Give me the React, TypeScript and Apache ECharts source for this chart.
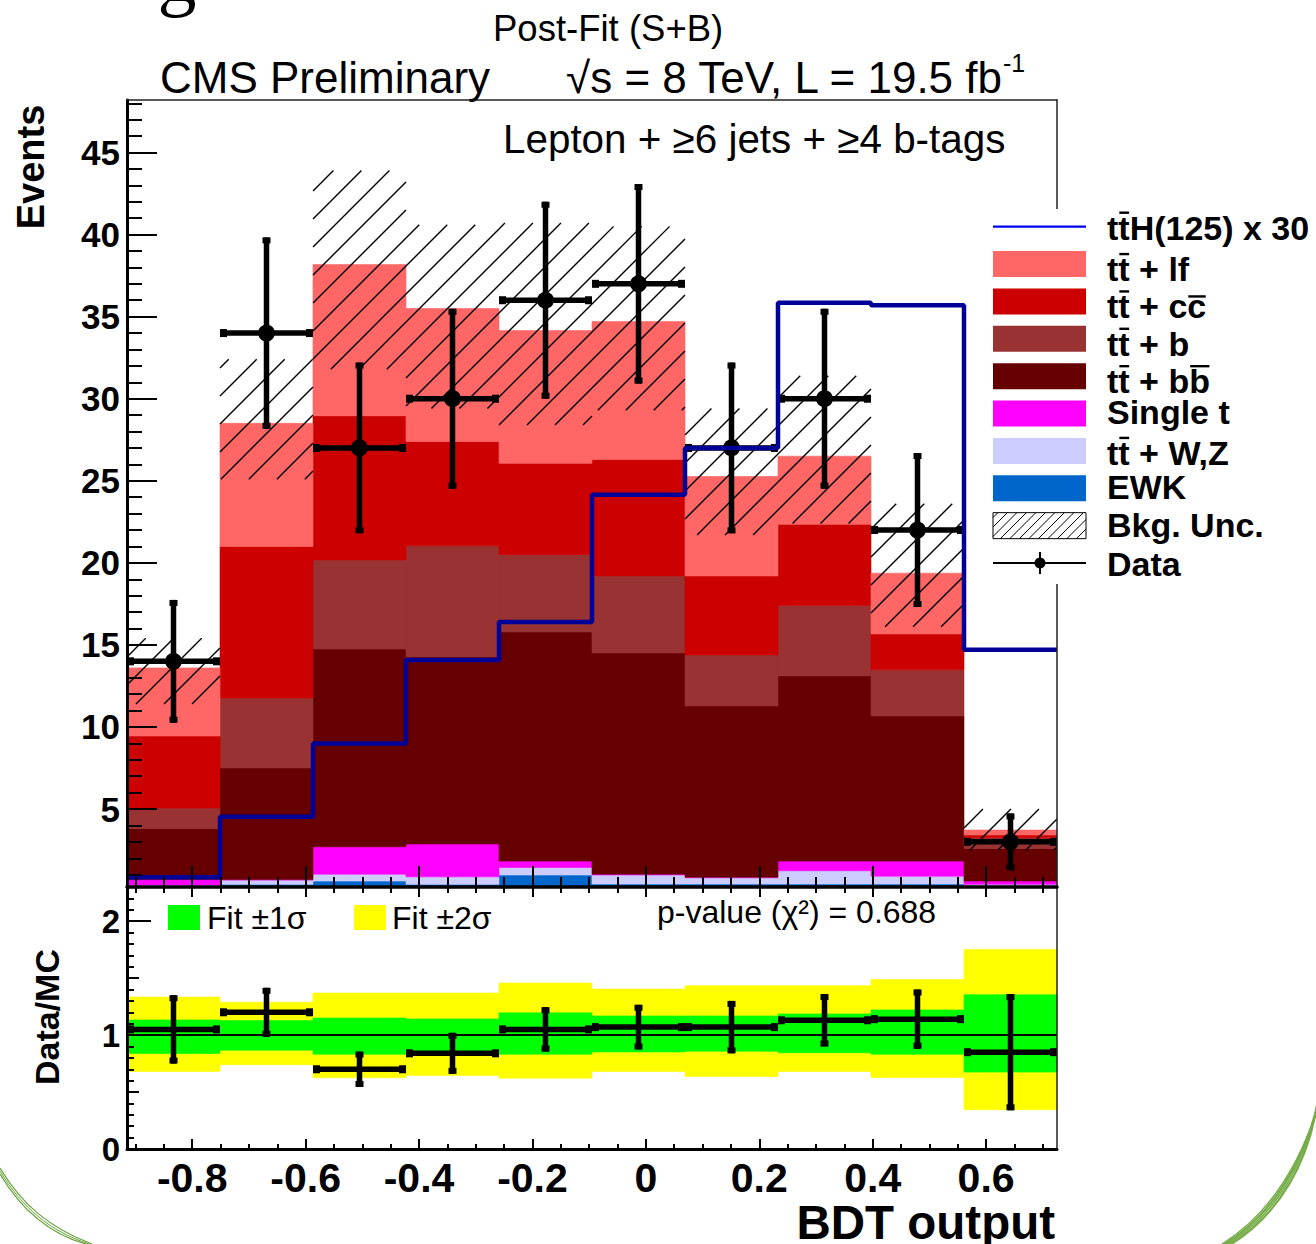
import React, { useEffect, useRef } from 'react';
import * as echarts from 'echarts';

const FONT = '"Liberation Sans", Arial, Helvetica, sans-serif';

// BDT output binning (10 bins)
const binEdges = [-0.915, -0.751, -0.587, -0.423, -0.259, -0.095, 0.069, 0.233, 0.397, 0.561, 0.725];

// Post-fit background yields per bin, stacked bottom to top
const ewk = [0.10, 0.41, 0.61, 0.41, 0.98, 0.43, 0.43, 0.43, 0.43, 0.30];
const ttV = [0.27, 0.26, 0.42, 0.46, 0.46, 0.55, 0.38, 0.81, 0.48, 0.11];
const singleTop = [0.33, 0.03, 1.67, 2.00, 0.39, 0.05, 0.04, 0.59, 0.92, 0.20];
const ttbb = [3.12, 6.80, 12.05, 11.40, 13.96, 13.48, 10.43, 11.28, 8.84, 1.99];
const ttb = [1.24, 4.27, 5.43, 6.77, 4.71, 4.69, 3.11, 4.29, 2.81, 0.65];
const ttcc = [4.39, 9.23, 8.78, 6.36, 5.57, 7.10, 4.81, 4.95, 2.19, 0.17];
const ttlf = [4.15, 7.50, 9.21, 8.10, 8.08, 8.40, 6.06, 4.15, 3.70, 0.30];

// total background uncertainty band (hatched)
const bkgUncUp = [15.4, 32.4, 43.9, 40.6, 40.7, 40.5, 29.4, 31.4, 23.6, 5.0];
const bkgUncDown = [11.4, 25.1, 31.8, 29.4, 28.4, 29.3, 21.7, 22.4, 16.1, 2.5];

// ttH(125) signal scaled by 30
const tthTimes30 = [0.85, 4.53, 9.0, 14.08, 16.4, 24.15, 27.0, 35.85, 35.7, 14.7];

// observed data
const dataCounts = [14, 34, 27, 30, 36, 37, 27, 30, 22, 3];
const dataErrors = [3.74, 5.83, 5.20, 5.48, 6.00, 6.08, 5.20, 5.48, 4.69, 1.73];

// Data/MC ratio panel
const ratioValues = [1.05, 1.20, 0.70, 0.84, 1.05, 1.07, 1.07, 1.13, 1.14, 0.85];
const ratioErrors = [0.30, 0.215, 0.155, 0.18, 0.195, 0.196, 0.23, 0.23, 0.26, 0.51];
const fit1SigmaUp = [1.133, 1.127, 1.150, 1.142, 1.195, 1.168, 1.168, 1.186, 1.221, 1.354];
const fit1SigmaDown = [0.838, 0.867, 0.832, 0.832, 0.832, 0.852, 0.858, 0.844, 0.832, 0.675];
const fit2SigmaUp = [1.334, 1.289, 1.369, 1.369, 1.457, 1.404, 1.434, 1.434, 1.487, 1.752];
const fit2SigmaDown = [0.681, 0.740, 0.625, 0.646, 0.622, 0.681, 0.637, 0.681, 0.628, 0.345];

// axis tick labels
const xTickLabels = [-0.8, -0.6, -0.4, -0.2, 0, 0.2, 0.4, 0.6];
const yTickLabels = [5, 10, 15, 20, 25, 30, 35, 40, 45];
const ratioTickLabels = [0, 1, 2];

const X_MIN = binEdges[0];
const X_MAX = binEdges[binEdges.length - 1];
const Y_MIN = 0.25;
const Y_MAX = 48.2;
const R_MIN = 0;
const R_MAX = 2.3;

const xMinorTicks: number[] = [];
for (let i = -18; i <= 14; i++) xMinorTicks.push(Math.round(i * 5) / 100);
const yMinorTicks: number[] = [];
for (let i = 1; i <= 48; i++) yMinorTicks.push(i);
const rMinorTicks: number[] = [];
for (let i = 1; i <= 23; i++) rMinorTicks.push(i / 10);
const rMediumTicks = [0.5, 1.5];

const fmtX = (v: number) => (Math.abs(v) < 1e-9 ? '0' : v.toFixed(1));

let measureCtx: CanvasRenderingContext2D | null = null;
function textWidth(s: string, font: string) {
  if (!measureCtx) measureCtx = document.createElement('canvas').getContext('2d');
  if (!measureCtx) return s.length * 18;
  measureCtx.font = font;
  return measureCtx.measureText(s).width;
}

function makeAxis(o: any) {
  return {
    type: 'value',
    gridIndex: o.gridIndex,
    position: o.position,
    min: o.min,
    max: o.max,
    z: 10,
    splitLine: { show: false },
    axisLine: { show: !!o.line, onZero: false, lineStyle: { color: o.lineColor || '#000', width: o.line || 1 } },
    axisTick: {
      show: !!o.ticks,
      inside: true,
      length: o.tickLen || 0,
      customValues: o.ticks,
      lineStyle: { color: '#000', width: o.tickWidth || 2 },
    },
    axisLabel: {
      show: !!o.labels,
      customValues: o.labels,
      margin: o.labelMargin ?? 8,
      fontSize: o.labelSize || 12,
      fontWeight: 'bold',
      fontFamily: FONT,
      color: '#000',
      formatter: o.formatter,
    },
  };
}

function rectItem(color: string) {
  return (params: any, api: any) => {
    const lo = api.value(0), hi = api.value(1), b = api.value(2), t = api.value(3);
    const p0 = api.coord([lo, t]);
    const p1 = api.coord([hi, b]);
    const shape = echarts.graphic.clipRectByRect(
      { x: p0[0], y: p0[1], width: p1[0] - p0[0], height: p1[1] - p0[1] },
      params.coordSys,
    );
    if (!shape) return null;
    return { type: 'rect', shape, style: { fill: color, stroke: color, lineWidth: 0.6 } };
  };
}

function hatchLines(x0: number, y0: number, x1: number, y1: number, step: number, lineWidth: number) {
  const out: any[] = [];
  const cStart = Math.ceil((x0 + y0) / step) * step;
  for (let c = cStart; c <= x1 + y1; c += step) {
    const xa = Math.max(x0, c - y1);
    const xb = Math.min(x1, c - y0);
    if (xb - xa > 0.5) {
      out.push({ type: 'line', shape: { x1: xa, y1: c - xa, x2: xb, y2: c - xb }, style: { stroke: '#000', lineWidth } });
    }
  }
  return out;
}

function errorItem(withMarker: boolean) {
  return (_params: any, api: any) => {
    const lo = api.value(0), hi = api.value(1), v = api.value(2), e = api.value(3);
    const c = (lo + hi) / 2;
    const pL = api.coord([lo, v]);
    const pR = api.coord([hi, v]);
    const pT = api.coord([c, v + e]);
    const pB = api.coord([c, v - e]);
    const lw = 5.5;
    const cap = 8;
    const children: any[] = [
      { type: 'line', shape: { x1: pL[0], y1: pL[1], x2: pR[0], y2: pR[1] }, style: { stroke: '#000', lineWidth: lw } },
      { type: 'line', shape: { x1: pT[0], y1: pT[1], x2: pB[0], y2: pB[1] }, style: { stroke: '#000', lineWidth: lw } },
      { type: 'rect', shape: { x: pL[0], y: pL[1] - cap / 2, width: cap - 1, height: cap }, style: { fill: '#000' } },
      { type: 'rect', shape: { x: pR[0] - cap + 1, y: pR[1] - cap / 2, width: cap - 1, height: cap }, style: { fill: '#000' } },
      { type: 'rect', shape: { x: pT[0] - cap / 2, y: pT[1], width: cap, height: cap - 2 }, style: { fill: '#000' } },
      { type: 'rect', shape: { x: pB[0] - cap / 2, y: pB[1] - cap + 2, width: cap, height: cap - 2 }, style: { fill: '#000' } },
    ];
    if (withMarker) {
      children.push({ type: 'circle', shape: { cx: pL[0] + (pR[0] - pL[0]) / 2, cy: pL[1], r: 8.5 }, style: { fill: '#000' } });
    }
    return { type: 'group', children };
  };
}

function text(t: string, x: number, y: number, size: number, o: any = {}) {
  const align = o.align || 'left';
  const vAlign = o.vAlign || 'middle';
  return {
    type: 'text',
    x,
    y,
    z: 100,
    rotation: o.rotation || 0,
    style: {
      text: t,
      fontSize: size,
      fontFamily: o.family || FONT,
      fontWeight: o.bold ? 'bold' : 'normal',
      fill: o.color || '#000',
      align,
      verticalAlign: vAlign,
      textAlign: align,
      textVerticalAlign: vAlign,
    },
  };
}

function buildOption() {
  const components = [
    { name: 'EWK', values: ewk, color: '#0066cc' },
    { name: 'tt + W,Z', values: ttV, color: '#ccccff' },
    { name: 'Single t', values: singleTop, color: '#ff00ff' },
    { name: 'tt + bb', values: ttbb, color: '#660000' },
    { name: 'tt + b', values: ttb, color: '#993333' },
    { name: 'tt + cc', values: ttcc, color: '#cc0000' },
    { name: 'tt + lf', values: ttlf, color: '#ff6666' },
  ];
  const running = ttlf.map(() => 0);
  const stackSeries = components.map((c) => {
    const data = c.values.map((v, i) => {
      const b = running[i];
      running[i] = b + v;
      return [binEdges[i], binEdges[i + 1], b, b + v];
    });
    return {
      type: 'custom',
      name: c.name,
      xAxisIndex: 0,
      yAxisIndex: 0,
      renderItem: rectItem(c.color),
      data,
      silent: true,
    };
  });

  const hatchSeries = {
    type: 'custom',
    name: 'Bkg. Unc.',
    xAxisIndex: 0,
    yAxisIndex: 0,
    silent: true,
    data: bkgUncUp.map((u, i) => [binEdges[i], binEdges[i + 1], bkgUncDown[i], u]),
    renderItem: (_p: any, api: any) => {
      const p0 = api.coord([api.value(0), api.value(3)]);
      const p1 = api.coord([api.value(1), api.value(2)]);
      return { type: 'group', children: hatchLines(p0[0], p0[1], p1[0], p1[1], 28, 1.4) };
    },
  };

  const tthPoints: number[][] = tthTimes30.map((v, i) => [binEdges[i], v]);
  tthPoints.push([binEdges[binEdges.length - 1], tthTimes30[tthTimes30.length - 1]]);
  const tthSeries = {
    type: 'line',
    name: 'ttH(125) x 30',
    xAxisIndex: 0,
    yAxisIndex: 0,
    step: 'end',
    symbol: 'none',
    data: tthPoints,
    lineStyle: { color: '#000099', width: 4.5 },
    silent: true,
  };

  const dataSeries = {
    type: 'custom',
    name: 'Data',
    xAxisIndex: 0,
    yAxisIndex: 0,
    silent: true,
    data: dataCounts.map((v, i) => [binEdges[i], binEdges[i + 1], v, dataErrors[i]]),
    renderItem: errorItem(true),
  };

  const band2Series = {
    type: 'custom',
    name: 'Fit ±2σ',
    xAxisIndex: 3,
    yAxisIndex: 3,
    silent: true,
    data: fit2SigmaUp.map((u, i) => [binEdges[i], binEdges[i + 1], fit2SigmaDown[i], u]),
    renderItem: rectItem('#ffff00'),
  };
  const band1Series = {
    type: 'custom',
    name: 'Fit ±1σ',
    xAxisIndex: 3,
    yAxisIndex: 3,
    silent: true,
    data: fit1SigmaUp.map((u, i) => [binEdges[i], binEdges[i + 1], fit1SigmaDown[i], u]),
    renderItem: rectItem('#00ff00'),
  };
  const unitySeries = {
    type: 'line',
    xAxisIndex: 3,
    yAxisIndex: 3,
    symbol: 'none',
    silent: true,
    data: [[X_MIN, 1], [X_MAX, 1]],
    lineStyle: { color: '#000', width: 2 },
  };
  const ratioSeries = {
    type: 'custom',
    name: 'Data/MC',
    xAxisIndex: 3,
    yAxisIndex: 3,
    silent: true,
    data: ratioValues.map((v, i) => [binEdges[i], binEdges[i + 1], v, ratioErrors[i]]),
    renderItem: errorItem(false),
  };

  // legend (right side); bars = characters carrying an anti-particle overline
  const legendRows: any[] = [
    { label: 'ttH(125) x 30', bars: [1], kind: 'line', dy: 1 },
    { label: 'tt + lf', bars: [1], kind: 'box', color: '#ff6666', dy: 5 },
    { label: 'tt + cc', bars: [1, 6], kind: 'box', color: '#cc0000', dy: 5 },
    { label: 'tt + b', bars: [1], kind: 'box', color: '#993333', dy: 5 },
    { label: 'tt + bb', bars: [1, 6], kind: 'box', color: '#660000', dy: 5 },
    { label: 'Single t', bars: [], kind: 'box', color: '#ff00ff', dy: -2 },
    { label: 'tt + W,Z', bars: [1], kind: 'box', color: '#ccccff', dy: 2 },
    { label: 'EWK', bars: [], kind: 'box', color: '#0066cc', dy: -1 },
    { label: 'Bkg. Unc.', bars: [], kind: 'hatch', dy: -1 },
    { label: 'Data', bars: [], kind: 'data', dy: 1 },
  ];
  const LSIZE = 34;
  const LFONT = `bold ${LSIZE}px ${FONT}`;
  const LX0 = 993, LX1 = 1086, LTXT = 1107, LY0 = 226.7, LSTEP = 37.37, BOXH = 26;
  const legendEls: any[] = [
    { type: 'rect', z: 99, shape: { x: 990, y: 209, width: 326, height: 375 }, style: { fill: '#fff' } },
  ];
  legendRows.forEach((r, i) => {
    const cy = LY0 + i * LSTEP;
    if (r.kind === 'line') {
      legendEls.push({ type: 'line', z: 100, shape: { x1: LX0, y1: cy, x2: LX1, y2: cy }, style: { stroke: '#0000ee', lineWidth: 2.2 } });
    } else if (r.kind === 'box') {
      legendEls.push({ type: 'rect', z: 100, shape: { x: LX0, y: cy - BOXH / 2, width: LX1 - LX0, height: BOXH }, style: { fill: r.color } });
    } else if (r.kind === 'hatch') {
      legendEls.push({ type: 'rect', z: 100, shape: { x: LX0, y: cy - BOXH / 2, width: LX1 - LX0, height: BOXH }, style: { fill: '#fff', stroke: '#000', lineWidth: 1 } });
      legendEls.push({ type: 'group', z: 100, children: hatchLines(LX0, cy - BOXH / 2, LX1, cy + BOXH / 2, 9.5, 1).map((l) => ({ ...l, z: 100 })) });
    } else {
      legendEls.push({ type: 'line', z: 100, shape: { x1: LX0, y1: cy, x2: LX1, y2: cy }, style: { stroke: '#000', lineWidth: 2 } });
      legendEls.push({ type: 'line', z: 100, shape: { x1: 1040, y1: cy - 11, x2: 1040, y2: cy + 11 }, style: { stroke: '#000', lineWidth: 2 } });
      legendEls.push({ type: 'circle', z: 100, shape: { cx: 1040, cy, r: 5.5 }, style: { fill: '#000' } });
    }
    const ty = cy + r.dy;
    legendEls.push(text(r.label, LTXT, ty, LSIZE, { bold: true }));
    r.bars.forEach((ci: number) => {
      const ch = r.label[ci];
      const xa = LTXT + textWidth(r.label.slice(0, ci), LFONT);
      const xb = LTXT + textWidth(r.label.slice(0, ci + 1), LFONT);
      const by = ch === 'c' ? ty - 10 : ty - 15;
      legendEls.push({ type: 'line', z: 101, shape: { x1: xa + 1, y1: by, x2: xb - 0.5, y2: by }, style: { stroke: '#000', lineWidth: 2.4 } });
    });
  });

  // decorative green pen strokes in the lower corners
  const strokes: any[] = [];
  const leftArc = [
    { d: 0, w: 1.2 }, { d: 3, w: 1.0 }, { d: 6, w: 1.2 },
  ];
  leftArc.forEach((s) => {
    strokes.push({
      type: 'bezierCurve', z: 100,
      shape: { x1: 0, y1: 1168 + s.d, cpx1: 22, cpy1: 1205 + s.d, cpx2: 50, cpy2: 1228 + s.d, x2: 92 - s.d, y2: 1244 },
      style: { stroke: '#6aa33e', lineWidth: s.w, fill: 'none' },
    });
  });
  const rightArc = [
    { d: 0, w: 2.2 }, { d: 3, w: 1.6 }, { d: 6, w: 2.4 }, { d: 9, w: 1.4 },
  ];
  rightArc.forEach((s) => {
    strokes.push({
      type: 'bezierCurve', z: 100,
      shape: { x1: 1318, y1: 1098 + s.d, cpx1: 1310 - s.d, cpy1: 1160, cpx2: 1280 - s.d, cpy2: 1215, x2: 1228 - s.d, y2: 1246 },
      style: { stroke: '#76ad48', lineWidth: s.w, fill: 'none' },
    });
  });

  const graphics: any[] = [
    text('g', 177, 13, 78, { family: '"Liberation Serif", "DejaVu Serif", serif', align: 'center', vAlign: 'bottom' }),
    text('Post-Fit (S+B)', 493, 28, 36.5),
    text('CMS Preliminary', 160, 77, 44),
    text('\u221As = 8 TeV, L = 19.5 fb', 1002, 77, 44, { align: 'right' }),
    text('-1', 1003, 63, 25),
    text('Lepton + \u22656 jets + \u22654 b-tags', 503, 139, 40.4),
    text('Events', 31, 167, 38, { bold: true, align: 'center', rotation: Math.PI / 2 }),
    text('Data/MC', 47, 1017, 34, { bold: true, align: 'center', rotation: Math.PI / 2 }),
    text('BDT output', 1055, 1222, 47.5, { bold: true, align: 'right' }),
    { type: 'rect', z: 100, shape: { x: 168, y: 905, width: 32, height: 25 }, style: { fill: '#00ff00' } },
    text('Fit \u00B11\u03C3', 207, 918, 32),
    { type: 'rect', z: 100, shape: { x: 354, y: 905, width: 32, height: 25 }, style: { fill: '#ffff00' } },
    text('Fit \u00B12\u03C3', 392, 918, 32),
    text('p-value (\u03C7\u00B2) = 0.688', 657, 912, 32),
    ...legendEls,
    ...strokes,
  ];

  return {
    animation: false,
    backgroundColor: '#fff',
    grid: [
      { left: 127, top: 100, width: 930, height: 787 },
      { left: 127, top: 887, width: 930, height: 262 },
    ],
    xAxis: [
      makeAxis({ gridIndex: 0, position: 'bottom', min: X_MIN, max: X_MAX, line: 3.5, ticks: xTickLabels, tickLen: 21 }),
      makeAxis({ gridIndex: 0, position: 'bottom', min: X_MIN, max: X_MAX, ticks: xMinorTicks, tickLen: 10 }),
      makeAxis({ gridIndex: 0, position: 'top', min: X_MIN, max: X_MAX, line: 1.5, lineColor: '#222' }),
      makeAxis({
        gridIndex: 1, position: 'bottom', min: X_MIN, max: X_MAX, line: 3, ticks: xTickLabels, tickLen: 10,
        labels: xTickLabels, labelSize: 41, labelMargin: 8, formatter: fmtX,
      }),
      makeAxis({ gridIndex: 1, position: 'bottom', min: X_MIN, max: X_MAX, ticks: xMinorTicks, tickLen: 5 }),
      makeAxis({ gridIndex: 1, position: 'top', min: X_MIN, max: X_MAX, ticks: xTickLabels, tickLen: 10 }),
      makeAxis({ gridIndex: 1, position: 'top', min: X_MIN, max: X_MAX, ticks: xMinorTicks, tickLen: 6 }),
    ],
    yAxis: [
      makeAxis({
        gridIndex: 0, position: 'left', min: Y_MIN, max: Y_MAX, line: 3, ticks: yTickLabels, tickLen: 30,
        labels: yTickLabels, labelSize: 35, labelMargin: 7, formatter: (v: number) => String(v),
      }),
      makeAxis({ gridIndex: 0, position: 'left', min: Y_MIN, max: Y_MAX, ticks: yMinorTicks, tickLen: 15 }),
      makeAxis({ gridIndex: 0, position: 'right', min: Y_MIN, max: Y_MAX, line: 1.5, lineColor: '#222' }),
      makeAxis({
        gridIndex: 1, position: 'left', min: R_MIN, max: R_MAX, line: 3, ticks: ratioTickLabels, tickLen: 24,
        labels: ratioTickLabels, labelSize: 33, labelMargin: 7, formatter: (v: number) => String(v),
      }),
      makeAxis({ gridIndex: 1, position: 'left', min: R_MIN, max: R_MAX, ticks: rMediumTicks, tickLen: 12 }),
      makeAxis({ gridIndex: 1, position: 'left', min: R_MIN, max: R_MAX, ticks: rMinorTicks, tickLen: 7 }),
      makeAxis({ gridIndex: 1, position: 'right', min: R_MIN, max: R_MAX, line: 1.5, lineColor: '#222' }),
    ],
    series: [
      ...stackSeries,
      hatchSeries,
      tthSeries,
      dataSeries,
      band2Series,
      band1Series,
      unitySeries,
      ratioSeries,
    ],
    graphic: { elements: graphics },
  };
}

export default function App() {
  const ref = useRef<HTMLDivElement>(null);
  useEffect(() => {
    if (!ref.current) return;
    const chart = echarts.init(ref.current, null, { renderer: 'svg' });
    chart.setOption(buildOption() as any);
    return () => chart.dispose();
  }, []);
  return (
    <div
      ref={ref}
      style={{ position: 'absolute', left: 0, top: 0, width: 1316, height: 1244, background: '#fff' }}
    />
  );
}
